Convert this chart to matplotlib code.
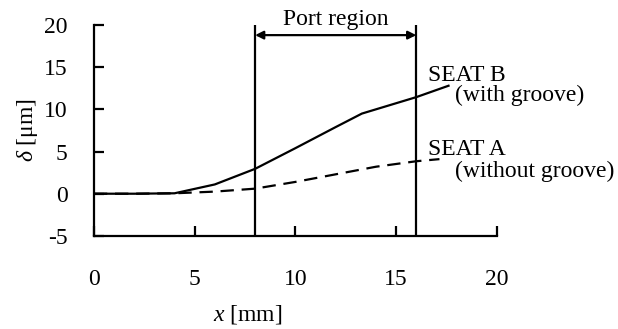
import matplotlib
matplotlib.use("Agg")
import matplotlib.pyplot as plt

plt.rcParams['font.family'] = ['Liberation Serif', 'DejaVu Serif']
plt.rcParams['mathtext.fontset'] = 'custom'
plt.rcParams['mathtext.rm'] = 'Liberation Serif'
plt.rcParams['mathtext.it'] = 'Liberation Serif:italic'

# Data
x_b = [0, 2, 4, 6, 8, 10, 12, 13.3, 16, 17.6]
seat_b = [0, 0, 0.05, 1.1, 2.95, 5.4, 7.9, 9.5, 11.45, 12.8]
x_a = [0, 2, 4, 6, 8, 10, 12, 14, 16, 17.15]
seat_a = [0, 0, 0.05, 0.25, 0.6, 1.4, 2.3, 3.2, 3.85, 4.1]
port_start, port_end = 8, 16
xticks = [0, 5, 10, 15, 20]
yticks = [-5, 0, 5, 10, 15, 20]

FS = 17

fig = plt.figure(figsize=(6.18, 3.29), dpi=100)
ax = fig.add_axes([0.152, 0.283, 0.652, 0.641])

ax.plot(x_b, seat_b, color='black', lw=1.6, solid_joinstyle='round')
ax.plot(x_a, seat_a, color='black', lw=1.6, linestyle=(0, (6, 3.5)))

ax.vlines([port_start, port_end], -5, 20, color='black', lw=1.6)
ax.annotate('', xy=(port_start, 18.8), xytext=(port_end, 18.8),
            arrowprops=dict(arrowstyle='<|-|>', color='black', lw=1.6,
                            shrinkA=0, shrinkB=0, mutation_scale=12))
ax.text((port_start + port_end) / 2, 20.65, 'Port region', ha='center', va='center',
        fontsize=FS, clip_on=False)

ax.text(16.6, 14.0, 'SEAT B', ha='left', va='center', fontsize=FS, clip_on=False)
ax.text(17.9, 11.7, '(with groove)', ha='left', va='center', fontsize=FS, clip_on=False)
ax.text(16.6, 5.3, 'SEAT A', ha='left', va='center', fontsize=FS, clip_on=False)
ax.text(17.9, 2.7, '(without groove)', ha='left', va='center', fontsize=FS, clip_on=False)

ax.set_xlim(0, 20)
ax.set_ylim(-5, 20)
ax.set_xticks(xticks)
ax.set_yticks(yticks)
ax.set_yticklabels([str(v) for v in yticks])
for s in ['top', 'right']:
    ax.spines[s].set_visible(False)
for s in ['left', 'bottom']:
    ax.spines[s].set_linewidth(1.6)
ax.tick_params(direction='in', length=7, width=1.6, labelsize=FS)
ax.tick_params(axis='x', pad=24)
ax.tick_params(axis='y', pad=19)

ax.set_ylabel(r'$\delta$ [μm]', fontsize=FS, labelpad=3)
fig.text(248 / 618, 1 - 315 / 329, r'$x$ [mm]', ha='center', va='center', fontsize=FS)

fig.savefig('out.png', dpi=100)
